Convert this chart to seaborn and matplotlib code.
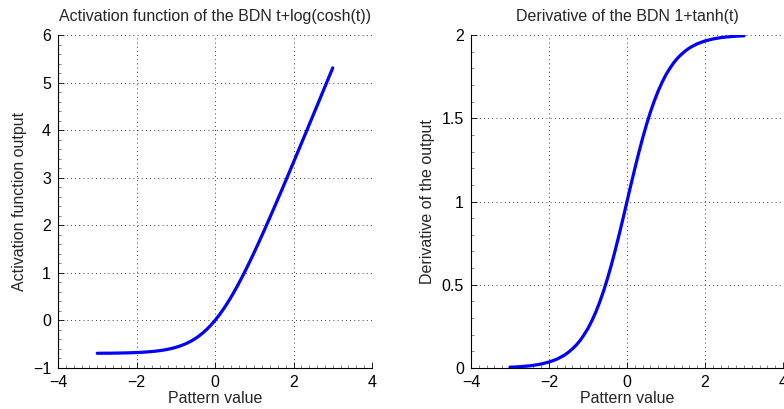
import matplotlib
matplotlib.use("Agg")
import matplotlib.pyplot as plt
import seaborn as sns
import pandas as pd
from matplotlib.ticker import AutoMinorLocator, MultipleLocator, FuncFormatter

# Pattern values (x)
pattern = [-3.0, -2.9, -2.8, -2.7, -2.6, -2.5, -2.4, -2.3, -2.2, -2.1,
           -2.0, -1.9, -1.8, -1.7, -1.6, -1.5, -1.4, -1.3, -1.2, -1.1,
           -1.0, -0.9, -0.8, -0.7, -0.6, -0.5, -0.4, -0.3, -0.2, -0.1,
           0.0, 0.1, 0.2, 0.3, 0.4, 0.5, 0.6, 0.7, 0.8, 0.9,
           1.0, 1.1, 1.2, 1.3, 1.4, 1.5, 1.6, 1.7, 1.8, 1.9,
           2.0, 2.1, 2.2, 2.3, 2.4, 2.5, 2.6, 2.7, 2.8, 2.9, 3.0]

# Activation function output (left panel)
activation = [-0.691, -0.690, -0.689, -0.689, -0.688, -0.686, -0.685, -0.683, -0.681, -0.678,
              -0.675, -0.671, -0.666, -0.660, -0.653, -0.645, -0.634, -0.622, -0.606, -0.588,
              -0.566, -0.540, -0.509, -0.473, -0.430, -0.380, -0.322, -0.256, -0.180, -0.095,
              0.000, 0.105, 0.220, 0.344, 0.478, 0.620, 0.770, 0.927, 1.091, 1.260,
              1.434, 1.612, 1.794, 1.979, 2.166, 2.356, 2.547, 2.740, 2.934, 3.129,
              3.325, 3.522, 3.719, 3.917, 4.115, 4.314, 4.512, 4.711, 4.911, 5.110, 5.309]

# Derivative of the output (right panel)
derivative = [0.005, 0.006, 0.007, 0.009, 0.011, 0.013, 0.016, 0.020, 0.024, 0.030,
              0.036, 0.044, 0.053, 0.065, 0.078, 0.095, 0.115, 0.138, 0.166, 0.200,
              0.238, 0.284, 0.336, 0.396, 0.463, 0.538, 0.620, 0.709, 0.803, 0.900,
              1.000, 1.100, 1.197, 1.291, 1.380, 1.462, 1.537, 1.604, 1.664, 1.716,
              1.762, 1.800, 1.834, 1.862, 1.885, 1.905, 1.922, 1.935, 1.947, 1.956,
              1.964, 1.970, 1.976, 1.980, 1.984, 1.987, 1.989, 1.991, 1.993, 1.994, 1.995]

df = pd.DataFrame({"t": pattern, "act": activation, "der": derivative})

sns.set_style("white")
plt.rcParams["font.family"] = ["Liberation Sans", "DejaVu Sans"]

fs = 11.5
# matlab-like tick labels: no trailing zeros, real minus sign
tick_fmt = FuncFormatter(lambda v, pos: f"{v:g}".replace("-", "\u2212"))

fig = plt.figure(figsize=(7.84, 4.09), dpi=100)
ax1 = fig.add_axes([58 / 784, 41 / 409, 314 / 784, 333 / 409])
ax2 = fig.add_axes([471 / 784, 41 / 409, 312 / 784, 333 / 409])

sns.lineplot(data=df, x="t", y="act", ax=ax1, color="#0000ff", linewidth=2.3)
sns.lineplot(data=df, x="t", y="der", ax=ax2, color="#0000ff", linewidth=2.3)

panels = [
    (ax1, (-1, 6), 1, "Activation function output", "Activation function of the BDN t+log(cosh(t))", 4),
    (ax2, (0, 2), 0.5, "Derivative of the output", "Derivative of the BDN 1+tanh(t)", 5),
]
for ax, ylim, ystep, ylabel, title, ypad in panels:
    ax.set_xlim(-4, 4)
    ax.set_ylim(*ylim)
    ax.xaxis.set_major_locator(MultipleLocator(2))
    ax.yaxis.set_major_locator(MultipleLocator(ystep))
    ax.xaxis.set_major_formatter(tick_fmt)
    ax.yaxis.set_major_formatter(tick_fmt)
    ax.xaxis.set_minor_locator(AutoMinorLocator(10))
    ax.yaxis.set_minor_locator(AutoMinorLocator(5))
    ax.grid(True, which="major", linestyle=(0, (1, 4)), color="black", linewidth=0.6)
    ax.set_axisbelow(True)
    for side in ["top", "right"]:
        ax.spines[side].set_visible(False)
    for side in ["left", "bottom"]:
        ax.spines[side].set_color("black")
        ax.spines[side].set_linewidth(0.8)
    ax.tick_params(which="both", bottom=True, left=True, top=False, right=False)
    ax.tick_params(which="major", direction="in", length=4, width=0.6, colors="black",
                   labelsize=fs, pad=5)
    ax.tick_params(which="minor", direction="in", length=2.5, width=0.5, color="#555555")
    ax.set_xlabel("Pattern value", fontsize=fs, labelpad=1)
    ax.set_ylabel(ylabel, fontsize=fs, labelpad=ypad)
    ax.set_title(title, fontsize=fs, pad=10)

fig.savefig("out.png", dpi=100)
